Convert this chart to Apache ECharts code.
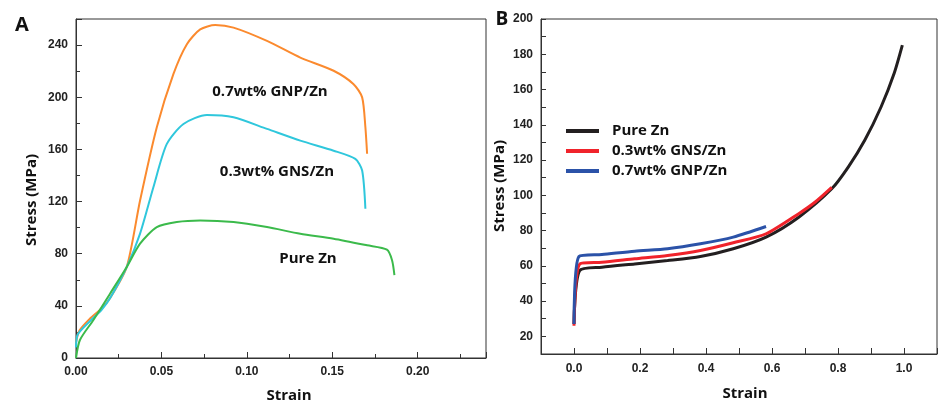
<!DOCTYPE html>
<html>
<head>
<meta charset="utf-8">
<script src="https://cdn.jsdelivr.net/npm/echarts@6/dist/echarts.min.js"></script>
<style>
  html, body { margin: 0; padding: 0; background: #fff; }
  #chart { width: 940px; height: 402px; }
</style>
</head>
<body>
<div id="chart"></div>
<script>
  // panel A: stress-strain, composite compression/tension curves
  const strainGnpA = [0, 0.002, 0.008, 0.015, 0.02, 0.0297, 0.0375, 0.0473, 0.057, 0.0649, 0.0727, 0.0815, 0.0922, 0.1118, 0.1313, 0.1508, 0.1625, 0.1675, 0.1694, 0.1704]
  const stressGnpA = [12, 21, 30, 38, 46, 69.8, 120.8, 177, 217.7, 240.7, 252, 255.4, 253.4, 243.2, 230.4, 220.3, 210, 199.9, 177, 156.6]
  const strainGnsA = [0, 0.001, 0.008, 0.015, 0.02, 0.0297, 0.0375, 0.0453, 0.0531, 0.0629, 0.0766, 0.0922, 0.1118, 0.1313, 0.1508, 0.1635, 0.1675, 0.1694]
  const stressGnsA = [8, 18, 28, 37, 46, 69.8, 95.4, 131, 164, 179.5, 186.4, 184.6, 175.7, 166.7, 159, 152.7, 143.8, 114.5]
  const strainZnA = [0, 0.0023, 0.0101, 0.02, 0.0297, 0.0375, 0.0473, 0.059, 0.0727, 0.0922, 0.1118, 0.1313, 0.1508, 0.1704, 0.182, 0.185, 0.1864]
  const stressZnA = [0, 13.8, 29, 49.5, 69.8, 87.7, 100.4, 104.3, 105.5, 104.3, 100.4, 95.3, 91.5, 86.4, 83.1, 75, 63.5]

  // panel B
  const strainZnB = [0, 0.017, 0.0846, 0.184, 0.2836, 0.383, 0.4826, 0.582, 0.681, 0.781, 0.831, 0.881, 0.9304, 0.970, 0.995]
  const stressZnB = [27, 57.3, 59.2, 61.1, 63, 65.3, 69.7, 76.3, 87.6, 103.7, 116, 131.2, 150.1, 169.1, 185.2]
  const strainGnsB = [0, 0.018, 0.0846, 0.184, 0.2836, 0.383, 0.4826, 0.582, 0.681, 0.731, 0.781]
  const stressGnsB = [26, 61.1, 62, 64, 65.9, 68.7, 73.1, 78.2, 89.6, 96.2, 104.5]
  const strainGnpB = [0, 0.015, 0.0846, 0.184, 0.2836, 0.383, 0.4826, 0.582]
  const stressGnpB = [27, 65.3, 66.4, 68.3, 69.7, 72.5, 76.3, 82.3]

  const legendNames = ['Pure Zn', '0.3wt% GNS/Zn', '0.7wt% GNP/Zn']

  const pairs = (xs, ys) => xs.map((x, i) => [x, ys[i]])
  const textFont = '"Open Sans", "DejaVu Sans", sans-serif'
  const tickFont = '"Liberation Sans", Arial, sans-serif'

  const chart = echarts.init(document.getElementById('chart'))

  const axisCommon = {
    axisLine: {onZero: false, lineStyle: {color: '#333', width: 1}},
    axisTick: {inside: true, length: 6, lineStyle: {color: '#333'}},
    splitLine: {show: false},
    axisLabel: {color: '#222', fontSize: 12, fontWeight: 'bold', fontFamily: tickFont}
  }

  function line(name, data, color, idx, width) {
    return {
      name: name,
      type: 'line',
      xAxisIndex: idx,
      yAxisIndex: idx,
      data: data,
      showSymbol: false,
      smooth: 0.25,
      lineStyle: {color: color, width: width},
      itemStyle: {color: color},
      z: 3
    }
  }

  chart.setOption({
    animation: false,
    backgroundColor: '#fff',
    grid: [
      {left: 76, top: 19, width: 410, height: 339, show: true, borderColor: '#333', borderWidth: 1},
      {left: 541, top: 19, width: 402, height: 335, show: true, borderColor: '#333', borderWidth: 1}
    ],
    xAxis: [
      Object.assign({}, axisCommon, {
        type: 'value', gridIndex: 0, min: 0, max: 0.24, interval: 0.05,
        minorTick: {show: true, splitNumber: 2, length: 4, lineStyle: {color: '#333'}},
        axisLabel: Object.assign({}, axisCommon.axisLabel, {
          margin: 8, showMaxLabel: false,
          formatter: v => v.toFixed(2)
        })
      }),
      Object.assign({}, axisCommon, {
        type: 'value', gridIndex: 1, min: -0.1, max: 1.1, interval: 0.1,
        axisTick: {inside: true, length: 6, lineStyle: {color: '#333'}},
        axisLabel: Object.assign({}, axisCommon.axisLabel, {
          margin: 9,
          formatter: v => {
            const k = Math.round(v * 10)
            return (k >= 0 && k % 2 === 0) ? (k / 10).toFixed(1) : ''
          }
        })
      })
    ],
    yAxis: [
      Object.assign({}, axisCommon, {
        type: 'value', gridIndex: 0, min: 0, max: 260, interval: 40,
        minorTick: {show: true, splitNumber: 2, length: 4, lineStyle: {color: '#333'}},
        axisLabel: Object.assign({}, axisCommon.axisLabel, {margin: 8, showMaxLabel: false})
      }),
      Object.assign({}, axisCommon, {
        type: 'value', gridIndex: 1, min: 10, max: 200, interval: 10,
        axisTick: {inside: true, length: 5, lineStyle: {color: '#333'}},
        axisLabel: Object.assign({}, axisCommon.axisLabel, {
          margin: 8,
          formatter: v => (Math.round(v) % 20 === 0 ? String(Math.round(v)) : '')
        })
      })
    ],
    legend: {
      data: legendNames,
      orient: 'vertical',
      left: 561,
      top: 118,
      icon: 'rect',
      itemWidth: 33,
      itemHeight: 4,
      itemGap: 4,
      textStyle: {color: '#111', fontSize: 15, fontWeight: 'bold', fontFamily: textFont, lineHeight: 16, padding: [0, 0, 0, 8]}
    },
    graphic: [
      {type: 'text', x: 22, y: 25, style: {text: 'A', font: 'bold 20px ' + textFont, fill: '#111', align: 'center', verticalAlign: 'middle'}},
      {type: 'text', x: 502, y: 20, style: {text: 'B', font: 'bold 19px ' + textFont, fill: '#111', align: 'center', verticalAlign: 'middle'}},
      {type: 'text', x: 289, y: 396, style: {text: 'Strain', font: 'bold 15px ' + textFont, fill: '#111', align: 'center', verticalAlign: 'middle'}},
      {type: 'text', x: 745, y: 394, style: {text: 'Strain', font: 'bold 15px ' + textFont, fill: '#111', align: 'center', verticalAlign: 'middle'}},
      {type: 'text', x: 32, y: 200, rotation: Math.PI / 2, style: {text: 'Stress (MPa)', font: 'bold 15px ' + textFont, fill: '#111', align: 'center', verticalAlign: 'middle'}},
      {type: 'text', x: 500, y: 186, rotation: Math.PI / 2, style: {text: 'Stress (MPa)', font: 'bold 15px ' + textFont, fill: '#111', align: 'center', verticalAlign: 'middle'}},
      {type: 'text', x: 270, y: 92, style: {text: '0.7wt% GNP/Zn', font: 'bold 15px ' + textFont, fill: '#111', align: 'center', verticalAlign: 'middle'}},
      {type: 'text', x: 277, y: 172, style: {text: '0.3wt% GNS/Zn', font: 'bold 15px ' + textFont, fill: '#111', align: 'center', verticalAlign: 'middle'}},
      {type: 'text', x: 308, y: 259, style: {text: 'Pure Zn', font: 'bold 15px ' + textFont, fill: '#111', align: 'center', verticalAlign: 'middle'}}
    ],
    series: [
      line('A 0.7wt% GNP/Zn', pairs(strainGnpA, stressGnpA), '#fb8a2e', 0, 2),
      line('A 0.3wt% GNS/Zn', pairs(strainGnsA, stressGnsA), '#2fc7dc', 0, 2),
      line('A Pure Zn', pairs(strainZnA, stressZnA), '#3bba4b', 0, 2),
      line('Pure Zn', pairs(strainZnB, stressZnB), '#231f20', 1, 3),
      line('0.3wt% GNS/Zn', pairs(strainGnsB, stressGnsB), '#f0232b', 1, 3),
      line('0.7wt% GNP/Zn', pairs(strainGnpB, stressGnpB), '#2b52a8', 1, 3)
    ]
  })
</script>
</body>
</html>
